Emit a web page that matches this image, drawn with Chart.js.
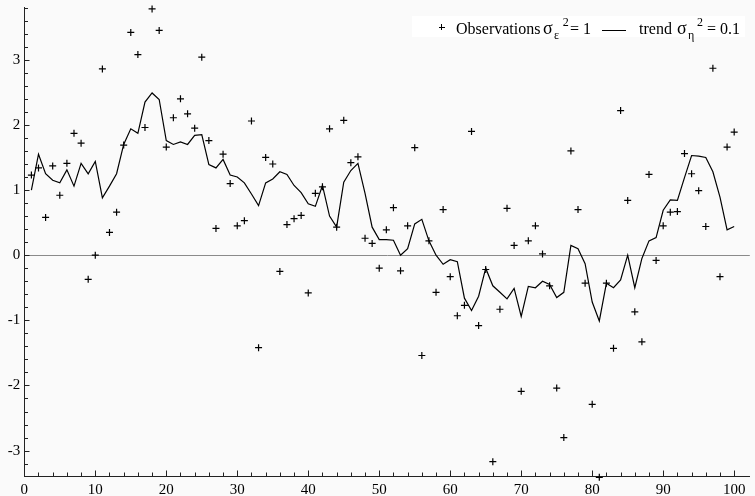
<!DOCTYPE html>
<html><head><meta charset="utf-8">
<script src="https://cdn.jsdelivr.net/npm/chart.js@4.4.0/dist/chart.umd.min.js"></script>
<style>
html,body{margin:0;padding:0;background:#fafafa;}
#wrap{position:relative;width:755px;height:496px;overflow:hidden;background:#fafafa;}
canvas{position:absolute;left:0;top:0;}
#legend{position:absolute;left:412px;top:16px;width:333px;height:21px;background:#fff;font-family:"Liberation Serif","Times New Roman",serif;color:#000;}
#legend span{position:absolute;white-space:nowrap;line-height:1;}
#legend .t{font-size:16px;top:4.6px;}
#legend .sg{font-size:18px;top:2.9px;}
#legend .sub{font-size:12px;top:12.6px;}
#legend .sup{font-size:12px;top:0px;}
#legend .bar{position:absolute;background:#000;}
</style></head><body>
<div id="wrap"><canvas id="c" width="755" height="496"></canvas>
<div id="legend">
  <div class="bar" style="left:26.7px;top:11px;width:6px;height:1px;"></div>
  <div class="bar" style="left:29.2px;top:8.3px;width:1px;height:6px;"></div>
  <span class="t" style="left:44px;">Observations</span>
  <span class="sg" style="left:131px;">σ</span>
  <span class="sub" style="left:142px;">ε</span>
  <span class="sup" style="left:150.7px;">2</span>
  <span class="t" style="left:158px;">= 1</span>
  <div class="bar" style="left:190px;top:14px;width:24px;height:1px;"></div>
  <span class="t" style="left:227px;">trend</span>
  <span class="sg" style="left:265px;">σ</span>
  <span class="sub" style="left:276px;">η</span>
  <span class="sup" style="left:285px;">2</span>
  <span class="t" style="left:295px;">= 0.1</span>
</div></div>
<script>
const time = [1,2,3,4,5,6,7,8,9,10,11,12,13,14,15,16,17,18,19,20,21,22,23,24,25,26,27,28,29,30,31,32,33,34,35,36,37,38,39,40,41,42,43,44,45,46,47,48,49,50,51,52,53,54,55,56,57,58,59,60,61,62,63,64,65,66,67,68,69,70,71,72,73,74,75,76,77,78,79,80,81,82,83,84,85,86,87,88,89,90,91,92,93,94,95,96,97,98,99,100];
const observations = [1.23,1.34,0.58,1.37,0.92,1.41,1.87,1.72,-0.37,0.0,2.86,0.35,0.66,1.69,3.42,3.08,1.96,3.78,3.45,1.66,2.11,2.40,2.17,1.95,3.04,1.76,0.41,1.55,1.10,0.45,0.53,2.06,-1.42,1.50,1.40,-0.25,0.47,0.56,0.61,-0.58,0.95,1.05,1.94,0.43,2.07,1.42,1.51,0.26,0.18,-0.20,0.39,0.73,-0.24,0.45,1.65,-1.54,0.22,-0.57,0.70,-0.33,-0.93,-0.77,1.90,-1.08,-0.22,-3.17,-0.83,0.72,0.15,-2.09,0.22,0.45,0.02,-0.47,-2.04,-2.80,1.60,0.70,-0.43,-2.29,-3.41,-0.43,-1.43,2.22,0.84,-0.87,-1.33,1.24,-0.08,0.45,0.66,0.67,1.56,1.25,0.99,0.44,2.87,-0.33,1.66,1.89];
const trend = [1.00,1.55,1.25,1.15,1.11,1.31,1.06,1.41,1.25,1.44,0.88,1.06,1.25,1.70,1.94,1.87,2.35,2.49,2.39,1.76,1.70,1.74,1.70,1.84,1.85,1.39,1.34,1.47,1.23,1.20,1.11,0.94,0.76,1.11,1.17,1.28,1.24,1.07,0.96,0.79,0.75,1.07,0.60,0.43,1.12,1.30,1.41,0.95,0.43,0.24,0.24,0.23,0.00,0.10,0.48,0.55,0.22,0.00,-0.14,-0.07,-0.10,-0.66,-0.85,-0.63,-0.20,-0.47,-0.57,-0.67,-0.51,-0.94,-0.48,-0.50,-0.40,-0.45,-0.65,-0.57,0.15,0.10,-0.13,-0.72,-1.01,-0.43,-0.50,-0.38,0.00,-0.50,-0.05,0.22,0.27,0.69,0.85,0.84,1.19,1.53,1.52,1.50,1.28,0.89,0.39,0.44];
const xTickLabels = [0,10,20,30,40,50,60,70,80,90,100];
const yTickLabels = [-3,-2,-1,0,1,2,3];

const FONT = "'Liberation Serif','Times New Roman',serif";

const tickPlugin = {
  id: 'innerTicks',
  afterDraw(chart) {
    const {ctx, scales: {x, y}} = chart;
    ctx.save();
    ctx.strokeStyle = '#222';
    ctx.lineWidth = 1;
    ctx.beginPath();
    const yb = Math.round(y.getPixelForValue(y.min)) + 0.5;
    for (let v = 0; v <= 100; v += 2) {
      const px = Math.round(x.getPixelForValue(v)) + 0.5;
      const len = (v % 10 === 0) ? 6 : 4;
      ctx.moveTo(px, yb); ctx.lineTo(px, yb - len);
    }
    const xl = Math.round(x.getPixelForValue(x.min)) + 0.5;
    for (let k = -16; k <= 19; k++) {
      const v = k / 5;
      if (v < y.min || v > y.max) continue;
      const py = Math.round(y.getPixelForValue(v)) + 0.5;
      const len = (k % 5 === 0) ? 5 : 3.5;
      ctx.moveTo(xl, py); ctx.lineTo(xl + len, py);
    }
    ctx.stroke();
    ctx.restore();
  }
};

new Chart(document.getElementById('c'), {
  data: {
    datasets: [
      {
        type: 'line',
        label: 'trend',
        data: time.map((t, i) => ({x: t, y: trend[i]})),
        borderColor: '#000',
        borderWidth: 1.2,
        pointRadius: 0,
        tension: 0,
        fill: false
      },
      {
        type: 'scatter',
        label: 'Observations',
        data: time.map((t, i) => ({x: t, y: observations[i]})),
        pointStyle: 'cross',
        pointRadius: 3.5,
        borderColor: '#000',
        borderWidth: 1.2,
        backgroundColor: '#000',
        clip: false
      }
    ]
  },
  options: {
    responsive: false,
    animation: false,
    layout: {padding: {top: 7, right: 0, left: 0, bottom: 0}},
    plugins: {legend: {display: false}, tooltip: {enabled: false}},
    scales: {
      x: {
        type: 'linear',
        min: 0, max: 102.2,
        afterFit(s) { s.height = 20; s.paddingLeft = 0; s.paddingRight = 0; },
        afterBuildTicks(s) { s.ticks = xTickLabels.map(v => ({value: v})); },
        ticks: {stepSize: 10, includeBounds: false, autoSkip: false, maxRotation: 0,
                color: '#000', padding: 5, font: {family: FONT, size: 15}},
        grid: {display: false, drawTicks: false},
        border: {display: true, color: '#222', width: 1}
      },
      y: {
        type: 'linear',
        min: -3.39, max: 3.81,
        afterFit(s) { s.width = 24.3; s.paddingTop = 0; s.paddingBottom = 0; },
        afterBuildTicks(s) { s.ticks = yTickLabels.map(v => ({value: v})); },
        ticks: {stepSize: 1, includeBounds: false, autoSkip: false,
                color: '#000', padding: 4, font: {family: FONT, size: 15}},
        grid: {display: true, drawTicks: false, lineWidth: 1,
               color: (c) => (c.tick && c.tick.value === 0) ? '#8a8a8a' : 'rgba(0,0,0,0)'},
        border: {display: true, color: '#222', width: 1}
      }
    }
  },
  plugins: [tickPlugin]
});
</script>
</body></html>
